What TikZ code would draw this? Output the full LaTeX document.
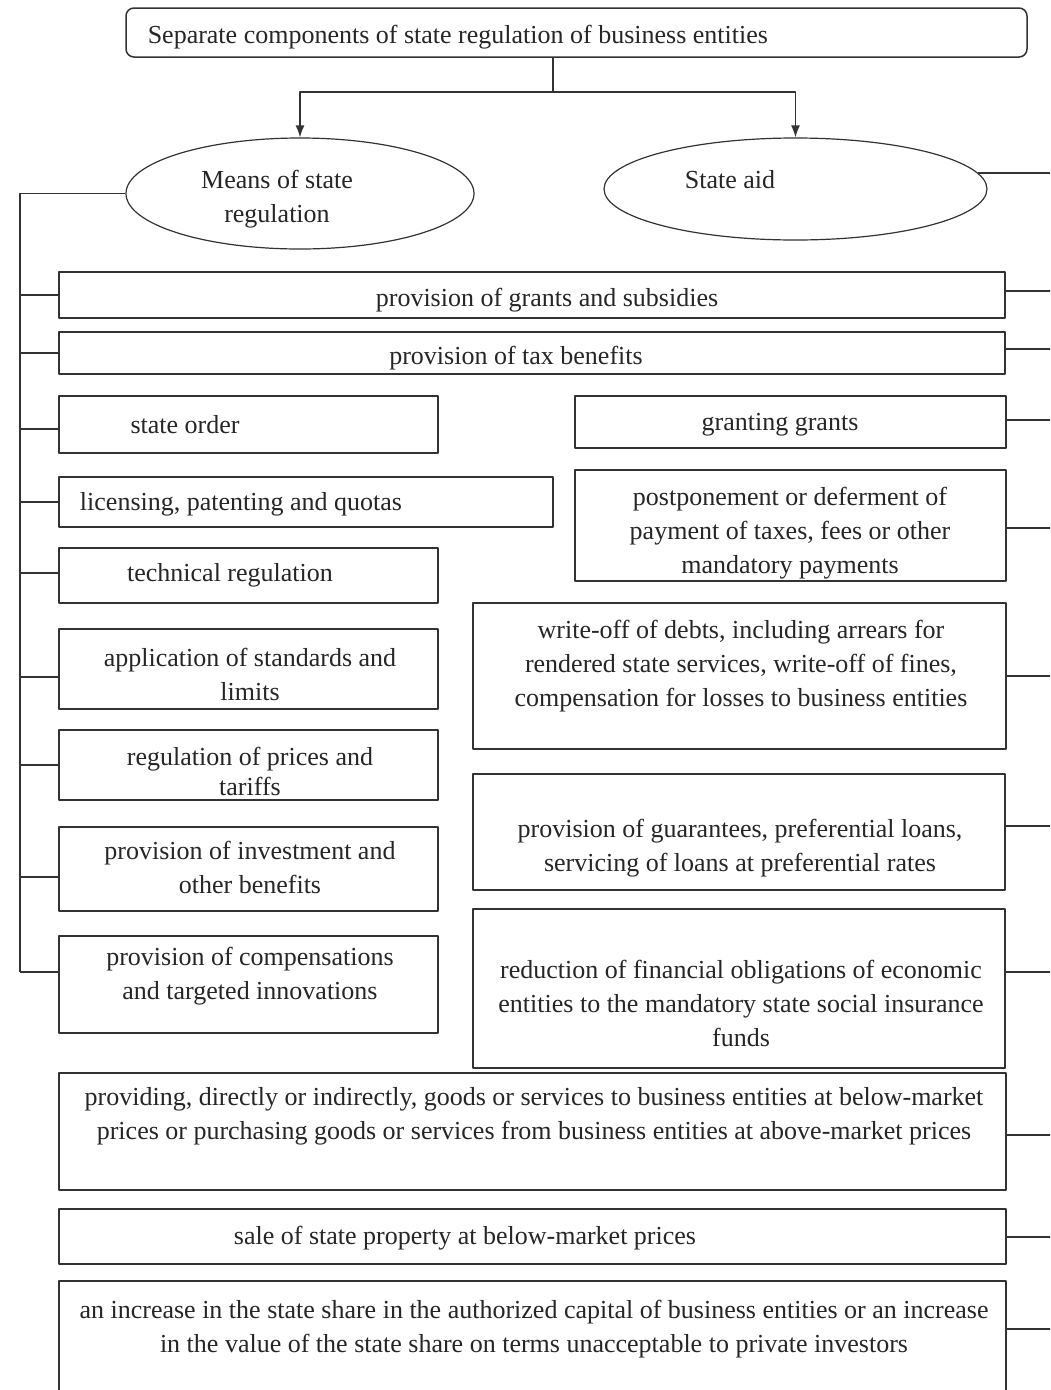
\documentclass[tikz,border=0pt]{standalone}
\usepackage{fontspec}
\setmainfont{Liberation Serif}
\usetikzlibrary{arrows.meta,fit,shapes.geometric}
\newcommand{\boxfont}{\fontsize{26}{34}\selectfont}
\tikzset{
  box/.style={draw, rectangle, inner sep=0pt},
  oval/.style={draw, ellipse, inner sep=0pt},
  txt/.style={align=center, inner sep=0pt, font=\boxfont, text=black!85, yshift=-3pt},
  link/.style={draw=black!80},
}
\begin{document}
\begin{tikzpicture}[x=1pt,y=-1pt,>={Latex[length=12pt,width=9pt]},line width=1.5pt,line join=bevel]
\clip (0,0) rectangle (1050,1390);
\fill[white] (0,0) rectangle (1050,1390);
\draw[black!80]
%%
  % Node: top
  node[box, rounded corners=8pt, fit={(126,8) (1027,57)}] (top) {}
  % Node: means
  node[oval, line width=1.2pt, minimum width=348pt, minimum height=111pt] (means) at (300,193.5) {}
  % Node: aid
  node[oval, line width=1.2pt, minimum width=383pt, minimum height=102pt] (aid) at (795.5,189) {}
  % Node: grants
  node[box, fit={(59,272) (1005,318)}] (grants) {}
  % Node: tax
  node[box, fit={(59,332) (1005,374)}] (tax) {}
  % Node: order
  node[box, fit={(59,396) (438,453)}] (order) {}
  % Node: granting
  node[box, fit={(575,396) (1006,448)}] (granting) {}
  % Node: licensing
  node[box, fit={(59,477) (553,527)}] (licensing) {}
  % Node: postpone
  node[box, fit={(575,470) (1006,581)}] (postpone) {}
  % Node: technical
  node[box, fit={(59,548) (438,603)}] (technical) {}
  % Node: writeoff
  node[box, fit={(473,603) (1006,749)}] (writeoff) {}
  % Node: standards
  node[box, fit={(59,629) (438,709)}] (standards) {}
  % Node: prices
  node[box, fit={(59,730) (438,800)}] (prices) {}
  % Node: guarantees
  node[box, fit={(473,774) (1005,890)}] (guarantees) {}
  % Node: investment
  node[box, fit={(59,827) (438,911)}] (investment) {}
  % Node: reduction
  node[box, fit={(473,909) (1005,1068)}] (reduction) {}
  % Node: compensation
  node[box, fit={(59,936) (438,1033)}] (compensation) {}
  % Node: goods
  node[box, fit={(59,1073) (1006,1190)}] (goods) {}
  % Node: property
  node[box, fit={(59,1209) (1006,1264)}] (property) {}
  % Node: share
  node[box, fit={(59,1281) (1006,1420)}] (share) {};
%
  % Texts
  \node[txt, anchor=west] (top-t) at (147,34) {Separate components of state regulation of business entities};
  \node[txt] (means-t) at (277,196) {Means of state\\regulation};
  \node[txt] (aid-t) at (730,177) {State aid};
  \node[txt] (grants-t) at (547,297) {provision of grants and subsidies};
  \node[txt] (tax-t) at (516,355) {provision of tax benefits};
  \node[txt] (order-t) at (185,422) {state order};
  \node[txt] (granting-t) at (780,422) {granting grants};
  \node[txt] (licensing-t) at (241,501) {licensing, patenting and quotas};
  \node[txt] (postpone-t) at (790,530) {postponement or deferment of\\payment of taxes, fees or other\\mandatory payments};
  \node[txt] (technical-t) at (230,572) {technical regulation};
  \node[txt] (writeoff-t) at (741,663) {write-off of debts, including arrears for\\rendered state services, write-off of fines,\\compensation for losses to business entities};
  \node[txt] (standards-t) at (250,671) {application of standards and\\limits};
  \node[txt, font=\fontsize{26}{30}\selectfont] (prices-t) at (250,768) {regulation of prices and\\tariffs};
  \node[txt] (guarantees-t) at (740,845) {provision of guarantees, preferential loans,\\servicing of loans at preferential rates};
  \node[txt] (investment-t) at (250,864) {provision of investment and\\other benefits};
  \node[txt] (reduction-t) at (741,1000) {reduction of financial obligations of economic\\entities to the mandatory state social insurance\\funds};
  \node[txt] (compensation-t) at (250,973) {provision of compensations\\and targeted innovations};
  \node[txt] (goods-t) at (534,1113) {providing, directly or indirectly, goods or services to business entities at below-market\\prices or purchasing goods or services from business entities at above-market prices};
  \node[txt] (property-t) at (465,1235) {sale of state property at below-market prices};
  \node[txt] (share-t) at (534,1326) {an increase in the state share in the authorized capital of business entities or an increase\\in the value of the state share on terms unacceptable to private investors};
%
  \coordinate (split) at (553,92);
  \coordinate (rail) at (20,193.5);
  \coordinate (edge) at (1050,0);
  % Edge: top -> means, aid
  \draw[link] (top.south -| split) -- (split);
  \draw[link,->] (split) -| (means.north);
  \draw[link,->] (split) -| (aid.north);
  % Edge: means -> rail
  \draw[link] (means.west) -- (rail) -- (rail |- 0,972);
  % Edge: rail -> left boxes
  \draw[link] (rail |- grants.west) -- (grants.west);
  \draw[link] (rail |- tax.west) -- (tax.west);
  \draw[link] (rail |- order.west) ++(0,4.5) -- ([yshift=-4.5pt]order.west);
  \draw[link] (rail |- licensing.west) -- (licensing.west);
  \draw[link] (rail |- technical.west) ++(0,-2.5) -- ([yshift=2.5pt]technical.west);
  \draw[link] (rail |- standards.west) ++(0,8) -- ([yshift=-8pt]standards.west);
  \draw[link] (rail |- prices.west) -- (prices.west);
  \draw[link] (rail |- investment.west) ++(0,8) -- ([yshift=-8pt]investment.west);
  \draw[link] (rail |- 0,972) -- (compensation.west |- 0,972);
  % Edge: right boxes -> edge
  \draw[link] (aid.5) -- (aid.5 -| edge);
  \draw[link] ([yshift=4pt]grants.east) -- ++(45,0);
  \draw[link] ([yshift=4pt]tax.east) -- ++(45,0);
  \draw[link] ([yshift=2pt]granting.east) -- ++(44,0);
  \draw[link] ([yshift=-2.5pt]postpone.east) -- ++(44,0);
  \draw[link] (writeoff.east) -- ++(44,0);
  \draw[link] ([yshift=6pt]guarantees.east) -- ++(45,0);
  \draw[link] ([yshift=16.5pt]reduction.east) -- ++(45,0);
  \draw[link] ([yshift=-3.5pt]goods.east) -- ++(44,0);
  \draw[link] ([yshift=-0.5pt]property.east) -- ++(44,0);
  \draw[link] (share.east |- 0,1329) -- ++(44,0);
%
\end{tikzpicture}
\end{document}
